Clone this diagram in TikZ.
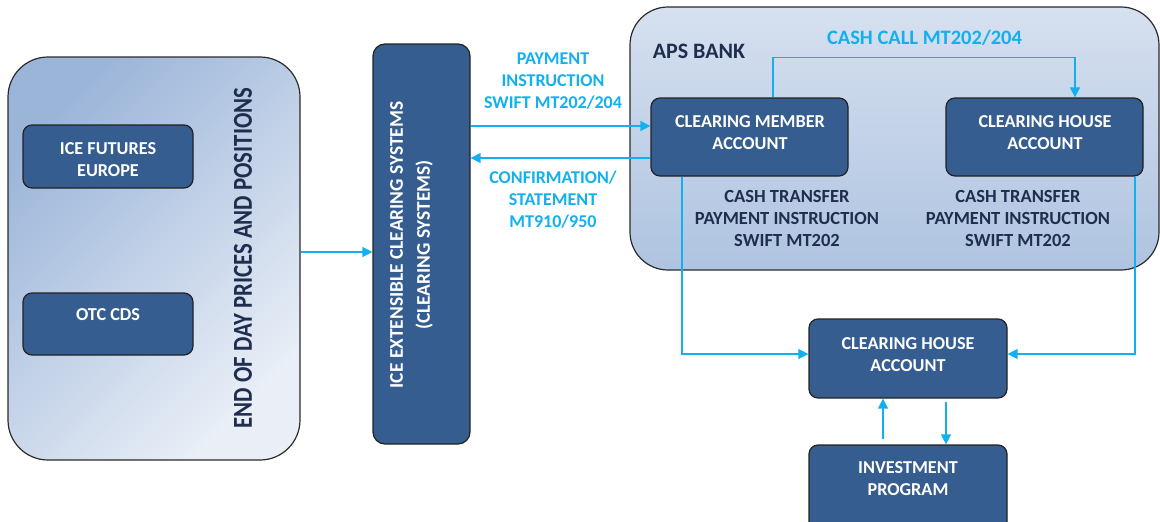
\documentclass[tikz,border=0pt]{standalone}
\usepackage{fontspec}
\setmainfont{Carlito}
\usetikzlibrary{arrows.meta}
\definecolor{boxblue}{HTML}{355D8F}
\definecolor{boxedge}{HTML}{222222}
\definecolor{flowcyan}{HTML}{12B0EE}
\definecolor{navy}{HTML}{1F2D4E}
\definecolor{panelDark}{HTML}{9BB5D9}
\definecolor{panelLight}{HTML}{EAEFF7}
\definecolor{panelEdge}{HTML}{2B2B2B}
\pgfdeclareverticalshading{eodshade}{100bp}{color(0bp)=(panelLight); color(25bp)=(panelLight); color(75bp)=(panelDark); color(100bp)=(panelDark)}
\pgfdeclareverticalshading{apsshade}{100bp}{color(0bp)=(panelDark); color(100bp)=(panelLight)}
\begin{document}
\begin{tikzpicture}[x=1pt,y=-1pt,
  panel/.style={draw=panelEdge, line width=1.2pt, inner sep=0pt, rounded corners=40pt},
  acct/.style={draw=boxedge, line width=1.2pt, fill=boxblue, rounded corners=9pt, inner sep=0pt},
  acctxt/.style={text=white, font=\fontsize{18.2}{22}\selectfont\bfseries, align=center, inner sep=0pt},
  flowlbl/.style={text=flowcyan, font=\fontsize{18}{22}\selectfont\bfseries, align=center, inner sep=0pt},
  darklbl/.style={text=navy, font=\fontsize{18.5}{22}\selectfont\bfseries, align=center, inner sep=0pt},
  flow/.style={draw=flowcyan, line width=1.4pt, -{Triangle[length=10pt,width=10pt]}}]
\useasboundingbox (0,0) rectangle (1160,522);
\clip (0,0) rectangle (1160,522);

% left panel
\node[panel, shade, shading=eodshade, shading angle=45, minimum width=292pt, minimum height=403pt] (eod) at (154,258.5) {};
\node[acct, minimum width=170pt, minimum height=63pt] (icef) at (108,156.5) {};
\node[acctxt] (icefT) at (108,159.5) {ICE FUTURES\\EUROPE};
\node[acct, minimum width=170pt, minimum height=62pt] (otc) at (108,324) {};
\node[acctxt] (otcT) at (108,315) {OTC CDS};
\node[darklbl, rotate=90, font=\fontsize{22.8}{26}\selectfont\bfseries] (eodT) at (243,258) {\scalebox{1}[1.2]{END OF DAY PRICES AND POSITIONS}};

% clearing systems
\node[acct, rounded corners=12pt, minimum width=97pt, minimum height=400pt] (cs) at (421.5,244) {};
\node[acctxt, rotate=90, font=\fontsize{19.4}{27}\selectfont\bfseries] (csT) at (411.5,245) {ICE EXTENSIBLE CLEARING SYSTEMS\\(CLEARING SYSTEMS)};

\coordinate (eodOut) at ([yshift=6.5pt]eod.east);
\draw[flow] (eodOut) -- (cs.west |- eodOut);

% APS bank
\node[panel, rounded corners=38pt, shade, shading=apsshade, minimum width=529pt, minimum height=263pt] (aps) at (894.5,138.5) {};
\node[darklbl, font=\fontsize{22}{26}\selectfont\bfseries] (apsT) at (699,51) {APS BANK};

\node[acct, minimum width=197pt, minimum height=78pt] (cma) at (749.5,137) {};
\node[acctxt] (cmaT) at (750,133) {CLEARING MEMBER\\ACCOUNT};
\node[acct, minimum width=197pt, minimum height=78pt] (th) at (1044.5,137) {};
\node[acctxt] (thT) at (1045,133) {CLEARING HOUSE\\ACCOUNT};

\node[darklbl] (ct1) at (787,218) {CASH TRANSFER\\PAYMENT INSTRUCTION\\SWIFT MT202};
\node[darklbl] (ct2) at (1018,218) {CASH TRANSFER\\PAYMENT INSTRUCTION\\SWIFT MT202};

% bottom boxes
\node[acct, minimum width=198pt, minimum height=79pt] (cha) at (908,358.5) {};
\node[acctxt] (chaT) at (908,355) {CLEARING HOUSE\\ACCOUNT};
\node[acct, minimum width=198pt, minimum height=90pt] (inv) at (908,490) {};
\node[acctxt] (invT) at (908,479) {INVESTMENT\\PROGRAM};

% flows between clearing systems and member account
\coordinate (payIn) at ([yshift=11pt]cma.west);
\draw[flow] (cs.east |- payIn) -- (payIn);
\coordinate (confOut) at ([yshift=-21pt]cma.west);
\draw[flow] (confOut) -- (cs.east |- confOut);
\node[flowlbl] (payT) at (553,81) {PAYMENT\\INSTRUCTION\\SWIFT MT202/204};
\node[flowlbl] (confT) at (553,200) {CONFIRMATION/\\STATEMENT\\MT910/950};

% cash call
\draw[flow] ([xshift=23.5pt]cma.north) -- ++(0,-40) -| ([xshift=30.5pt]th.north);
\node[flowlbl, font=\fontsize{20.5}{24}\selectfont\bfseries] (ccT) at (924.5,38) {CASH CALL MT202/204};

% transfers to clearing house account
\draw[flow] ([xshift=-67.5pt]cma.south) |- ([yshift=4.5pt]cha.west);
\draw[flow] ([xshift=90.5pt]th.south) |- ([yshift=4.5pt]cha.east);

% investment program
\draw[flow, shorten <=5pt] ([xshift=-25pt]inv.north) -- ([xshift=-25pt]cha.south);
\draw[flow, shorten <=3pt] ([xshift=38pt]cha.south) -- ([xshift=38pt]inv.north);
\end{tikzpicture}
\end{document}
